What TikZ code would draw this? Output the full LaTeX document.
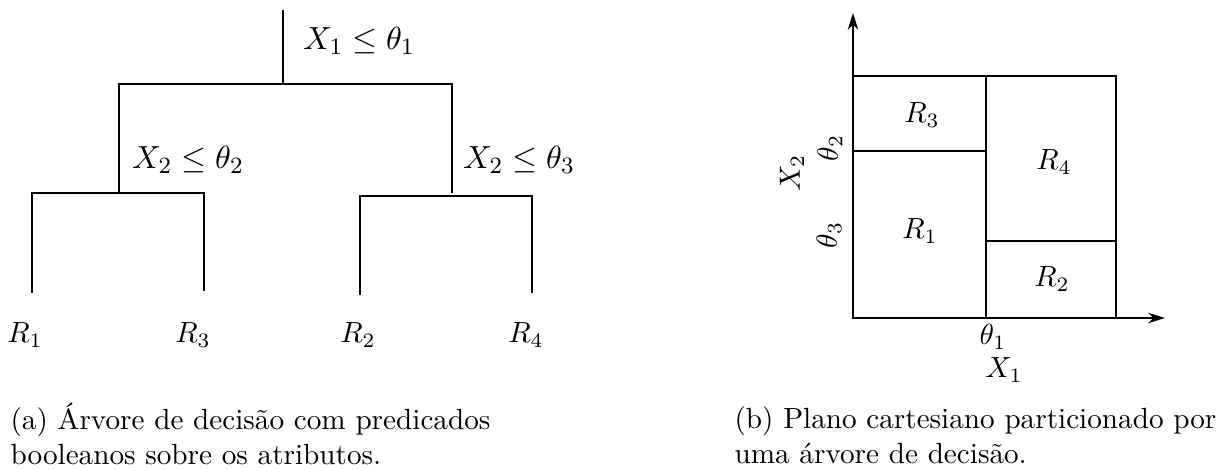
\documentclass[tikz,border=0pt]{standalone}
\usepackage{fontspec}
\usepackage{amsmath}
\usepackage{tikz}
\usetikzlibrary{arrows.meta}

\begin{document}
\begin{tikzpicture}[x=0.3425pt, y=-0.3425pt,
    branch/.style={line width=0.75pt},
    test/.style={font=\fontsize{11}{13.2}\selectfont},
    border/.style={line width=0.75pt},
    axis/.style={line width=0.75pt, -{Stealth[length=5.8pt, width=3.6pt]}},
    split/.style={line width=0.35pt},
    caption/.style={anchor=base west, inner sep=0pt}]
  \useasboundingbox (0,0) rectangle (1227,470);
  \coordinate (t0) at (283,10);
  \coordinate (t1) at (283,84);
  \coordinate (n1) at (119,84);
  \coordinate (n2) at (452,84);
  \coordinate (n1b) at (119,193);
  \coordinate (n2b) at (452,193);
  \coordinate (l1) at (32,193);
  \coordinate (l3) at (204,193);
  \coordinate (l2) at (360,196);
  \coordinate (l4) at (532,196);
  \coordinate (f1) at (32,293);
  \coordinate (f3) at (204,291);
  \coordinate (f2) at (360,295);
  \coordinate (f4) at (532,293);
  \draw[branch] (t0) -- (t1);
  \draw[branch] (n1b) -- (n1) -- (n2) -- (n2b);
  \draw[branch] (f1) -- (l1) -- (l3) -- (f3);
  \draw[branch] (f2) -- (l2) -- (l4) -- (f4);
  \node[test] (q1) at (359,41) {$X_1 \leq \theta_1$};
  \node[test] (q2) at (188,160) {$X_2 \leq \theta_2$};
  \node[test] (q3) at (519,160) {$X_2 \leq \theta_3$};
  \node (r1) at (25,335) {$R_1$};
  \node (r3) at (193,335) {$R_3$};
  \node (r2) at (358,335) {$R_2$};
  \node (r4) at (526,335) {$R_4$};
  \node[caption] (capa1) at (10,430) {(a) Árvore de decisão com predicados};
  \node[caption] (capa2) at (10,465) {booleanos sobre os atributos.};

  \coordinate (o) at (853,318);
  \coordinate (xe) at (1165,318);
  \coordinate (ye) at (853,13);
  \coordinate (c0) at (853,76);
  \coordinate (c1) at (1116,318);
  \coordinate (s1a) at (986,76);
  \coordinate (s1b) at (986,318);
  \coordinate (s2a) at (853,151);
  \coordinate (s2b) at (986,151);
  \coordinate (s3a) at (986,241);
  \coordinate (s3b) at (1116,241);
  \draw[split] (s1a) -- (s1b);
  \draw[split] (s2a) -- (s2b);
  \draw[split] (s3a) -- (s3b);
  \draw[border] (c0) rectangle (c1);
  \draw[axis] (o) -- (xe);
  \draw[axis] (o) -- (ye);
  \node (p3) at (922,115) {$R_3$};
  \node (p4) at (1054,162) {$R_4$};
  \node (p1) at (920,231) {$R_1$};
  \node (p2) at (1052,279) {$R_2$};
  \node (th1) at (993,337) {$\theta_1$};
  \node (x1) at (1004,370) {$X_1$};
  \node[rotate=90] (th2) at (830,148) {$\theta_2$};
  \node[rotate=90] (th3) at (829,235) {$\theta_3$};
  \node[rotate=90] (x2) at (792,173) {$X_2$};
  \node[caption] (capb1) at (734,429) {(b) Plano cartesiano particionado por};
  \node[caption] (capb2) at (734,464) {uma árvore de decisão.};
\end{tikzpicture}
\end{document}
